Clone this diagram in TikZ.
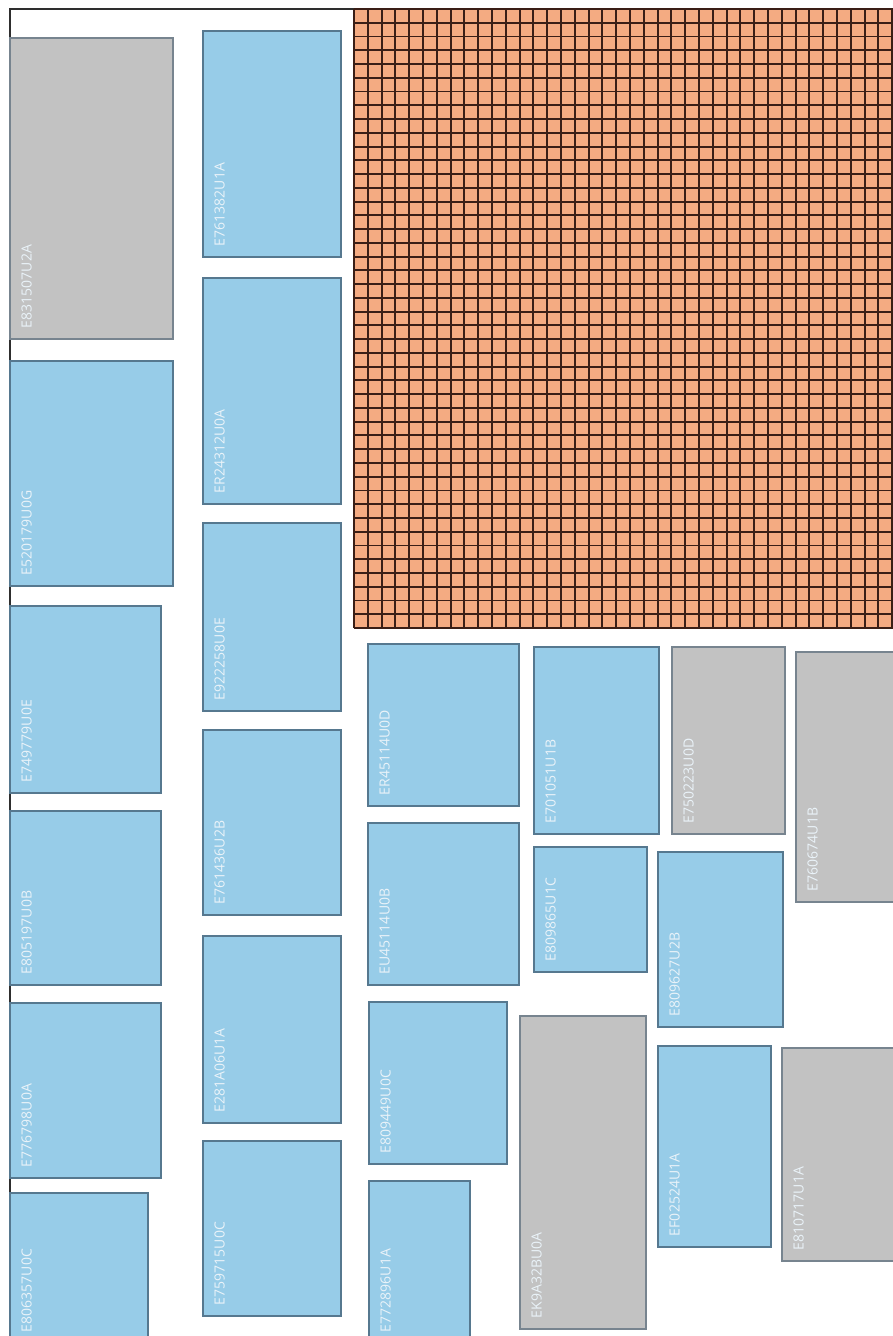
\documentclass[tikz,border=0pt]{standalone}
\usepackage{fontspec}
\setmainfont{Open Sans}
\definecolor{bluefill}{HTML}{97CCE8}
\definecolor{blueedge}{HTML}{56788F}
\definecolor{grayfill}{HTML}{C2C2C2}
\definecolor{grayedge}{HTML}{77848F}
\definecolor{gridfill}{HTML}{F4AB82}
\definecolor{gridline}{HTML}{3A1E16}
\definecolor{frameline}{HTML}{2E2E2E}
\definecolor{lbltext}{HTML}{EAF3F9}
\tikzset{
  bluebox/.style={rectangle,draw=blueedge,fill=bluefill,line width=1.3pt,inner sep=0pt,outer sep=0pt},
  graybox/.style={rectangle,draw=grayedge,fill=grayfill,line width=1.3pt,inner sep=0pt,outer sep=0pt},
  lbl/.style={rotate=90,anchor=base west,inner sep=0pt,outer sep=0pt,text=lbltext,font=\fontsize{14}{14}\selectfont},
  frame/.style={draw=frameline,line width=1.2pt},
  gridrule/.style={draw=gridline,line width=1.9pt}
}
\newcommand\bx[7]{%
  \node[#2,minimum width=#5pt-#3pt,minimum height=#6pt-#4pt] (#1) at ({(#3+#5)/2},{(#4+#6)/2}) {};
  \node[lbl] (#1t) at ([xshift=21.5pt,yshift=11pt]#1.south west) {#7};}
\begin{document}
\begin{tikzpicture}[x=1pt,y=-1pt]
\useasboundingbox (0,0) rectangle (893,1336);
\clip (0,0) rectangle (893,1336);
\fill[white] (0,0) rectangle (893,1336);
% frame lines
\draw[frame] (10,1340) -- (10,9) -- (354,9);
% grid
\begin{scope}
\clip (353,8) rectangle (900,629);
\fill[gridfill] (354,9) rectangle (900,628);
\foreach \i in {0,...,39} {\draw[gridrule] ({354+13.8*\i},9) -- ({354+13.8*\i},628);}
\foreach \j in {0,...,45} {\draw[gridrule] (354,{9+13.756*\j}) -- (900,{9+13.756*\j});}
\end{scope}
% column 1
\bx{b1}{graybox}{10}{38}{173}{339}{E831507U2A}
\bx{b2}{bluebox}{10}{361}{173}{586}{E520179U0G}
\bx{b3}{bluebox}{10}{606}{161}{793}{E749779U0E}
\bx{b4}{bluebox}{10}{811}{161}{985}{E805197U0B}
\bx{b5}{bluebox}{10}{1003}{161}{1178}{E776798U0A}
\bx{b6}{bluebox}{10}{1193}{148}{1343}{E806357U0C}
% column 2
\bx{b7}{bluebox}{203}{31}{341}{257}{E761382U1A}
\bx{b8}{bluebox}{203}{278}{341}{504}{ER24312U0A}
\bx{b9}{bluebox}{203}{523}{341}{711}{E922258U0E}
\bx{b10}{bluebox}{203}{730}{341}{915}{E761436U2B}
\bx{b11}{bluebox}{203}{936}{341}{1123}{E281A06U1A}
\bx{b12}{bluebox}{203}{1141}{341}{1316}{E759715U0C}
% column 3
\bx{b13}{bluebox}{368}{644}{519}{806}{ER45114U0D}
\bx{b14}{bluebox}{368}{823}{519}{985}{EU45114U0B}
\bx{b15}{bluebox}{369}{1002}{507}{1164}{E809449U0C}
\bx{b16}{bluebox}{369}{1181}{470}{1343}{E772896U1A}
% column 4
\bx{b17}{bluebox}{534}{647}{659}{834}{E701051U1B}
\bx{b18}{bluebox}{534}{847}{647}{972}{E809865U1C}
\bx{b19}{graybox}{520}{1016}{646}{1329}{EK9A32BU0A}
% column 5
\bx{b20}{graybox}{672}{647}{785}{834}{E750223U0D}
\bx{b21}{bluebox}{658}{852}{783}{1027}{E809627U2B}
\bx{b22}{bluebox}{658}{1046}{771}{1247}{EF02524U1A}
% column 6
\bx{b23}{graybox}{796}{652}{900}{902}{E760674U1B}
\bx{b24}{graybox}{782}{1048}{900}{1261}{E810717U1A}
\end{tikzpicture}
\end{document}
